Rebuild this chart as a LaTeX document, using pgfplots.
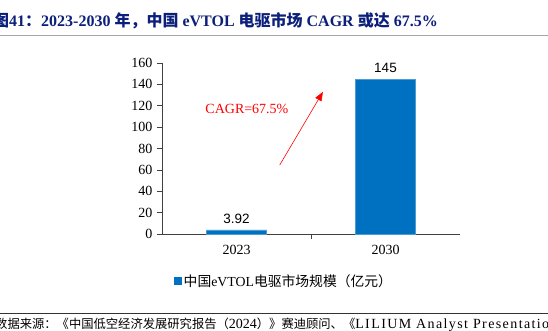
\documentclass[border=0pt]{standalone}
\usepackage{pgfplots}
\pgfplotsset{compat=1.18}
\usepackage{fontspec}
\setmainfont{Liberation Serif}
\newfontfamily\cjk{Noto Sans CJK SC}
\newfontfamily\cjkb{Noto Sans CJK SC Bold}
\newfontfamily\arial{Liberation Sans}
\newfontfamily\spaced[LetterSpace=10]{Liberation Serif}
\definecolor{barblue}{HTML}{0070C0}
\definecolor{titleblue}{HTML}{0C1F7A}
\usetikzlibrary{arrows.meta}
\begin{document}
\begin{tikzpicture}[x=1pt,y=1pt]
\useasboundingbox (0,0) rectangle (548,331);
% title
\node[anchor=base west,inner sep=0pt,text=titleblue,font=\fontsize{16}{18}\selectfont\bfseries] at (-7,304)
  {{\cjkb 图}41{\cjkb ：}2023-2030 {\cjkb 年，中国} eVTOL {\cjkb 电驱市场} CAGR {\cjkb 或达} 67.5\%};
\draw[line width=1.6pt,gray!70] (0,295.5) -- (548,295.5);
% footer
\draw[line width=0.8pt,black!80] (0,18) -- (548,18);
\node[anchor=base west,inner sep=0pt,font=\fontsize{12.3}{14}\selectfont] at (-5,2)
  {{\cjk 数据来源：《中国低空经济发展研究报告（}{\fontsize{14}{16}\selectfont 2024}{\cjk ）》赛迪顾问、《}{\spaced\fontsize{14}{16}\selectfont LILIUM Analyst Presentation}{\cjk 》}};
\begin{axis}[
  at={(162pt,97pt)}, anchor=south west,
  scale only axis, width=298pt, height=171pt,
  xmin=-0.5, xmax=1.5, ymin=0, ymax=160,
  axis lines=left, axis line style={-, black!75, line width=0.7pt},
  ytick={0,20,...,160},
  tick align=outside, major tick length=5pt,
  tick style={black!75, line width=0.7pt},
  xtick={0.5}, xticklabels={},
  extra x ticks={0,1}, extra x tick labels={2023,2030},
  extra x tick style={major tick length=0pt, xticklabel style={yshift=-8pt}},
  ticklabel style={font=\fontsize{14}{16}\selectfont},
  /pgf/number format/assume math mode=true,
  yticklabel style={xshift=-1pt},
  ybar, bar width=60pt,
  nodes near coords,
  nodes near coords style={font=\arial\fontsize{13.5}{15}\selectfont, yshift=3pt, /pgf/number format/.cd, fixed, precision=2},
  legend style={at={(0.41,-0.275)}, anchor=center, draw=none, fill=none,
    font=\fontsize{13.8}{15}\selectfont, inner sep=0pt},
  legend image code/.code={\fill[barblue] (0pt,-3.5pt) rectangle (7pt,3.5pt);},
  clip=false,
]
\addplot[fill=barblue, draw=barblue!70!white] coordinates {(0,3.92) (1,145)};
\addlegendentry{{\cjk 中国}eVTOL{\cjk 电驱市场规模（亿元）}}
\node[text=red, font=\fontsize{14}{16}\selectfont] at (axis cs:0.07,117) {CAGR=67.5\%};
\draw[red, line width=0.6pt, -{Triangle[length=9pt,width=7pt]}] (axis cs:0.29,64.5) -- (axis cs:0.58,133);
\end{axis}
\end{tikzpicture}
\end{document}
